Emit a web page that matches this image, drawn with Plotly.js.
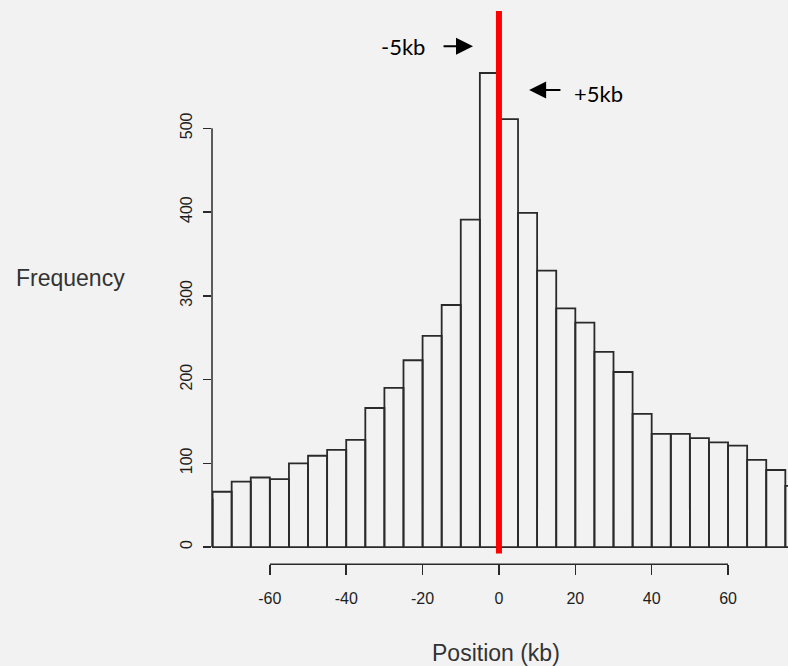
<!DOCTYPE html>
<html>
<head>
<meta charset="utf-8">
<script src="https://cdn.plot.ly/plotly-3.0.1.min.js"></script>
<style>
html,body{margin:0;padding:0;background:#f2f2f2;}
#chart{width:788px;height:666px;}
</style>
</head>
<body>
<div id="chart"></div>
<script>
// Bin centres (kb), bin width 5 kb
const binCenters = [-77.5,-72.5,-67.5,-62.5,-57.5,-52.5,-47.5,-42.5,-37.5,-32.5,-27.5,-22.5,-17.5,-12.5,-7.5,-2.5,
                    2.5,7.5,12.5,17.5,22.5,27.5,32.5,37.5,42.5,47.5,52.5,57.5,62.5,67.5,72.5,77.5];
const frequency  = [57,66,78,83,81,100,109,116,128,166,190,223,252,289,391,566,
                    511,399,330,285,268,233,209,159,135,135,130,125,121,104,92,73];
const binWidth = 5;
const xTicks = [-60,-40,-20,0,20,40,60];
const yTicks = [0,100,200,300,400,500];
const centerLine = 0;
const leftLabel = {text:'-5kb', x:-25, y:598, arrowHead:-6.8, arrowTail:-14.9, arrowY:598};
const rightLabel = {text:'+5kb', x:26.1, y:542, arrowHead:7.9, arrowTail:16.5, arrowY:545.6};

const axisColor = '#2a2a2a';
const tickFont = {family:'Liberation Sans, Arial, sans-serif', size:16, color:'#1e1e1e'};
const titleFont = {family:'Liberation Sans, Arial, sans-serif', size:23, color:'#333333'};
const noteFont = {family:'Lato, Noto Sans, sans-serif', size:22, color:'#000000'};

const yDomainBottom = 0.0884;
const xAxisPos = 0.0701;

const trace = {
  type:'bar',
  x: binCenters,
  y: frequency,
  width: binCenters.map(()=>binWidth),
  marker:{color:'rgba(0,0,0,0)', line:{color:'#2a2a2a', width:1.8}},
  hoverinfo:'x+y',
  showlegend:false
};

const layout = {
  width:788, height:666,
  margin:{l:212, r:0, t:11, b:60, pad:0},
  paper_bgcolor:'#f2f2f2',
  plot_bgcolor:'#f2f2f2',
  bargap:0,
  showlegend:false,
  xaxis:{
    range:[-75.15, 75.7],
    anchor:'free', position:xAxisPos,
    showgrid:false, zeroline:false, showline:false,
    ticks:'outside', ticklen:10, tickwidth:1.5, tickcolor:axisColor,
    tickvals:xTicks, ticktext:xTicks.map(String),
    tickfont:tickFont, ticklabelstandoff:10
  },
  yaxis:{
    range:[-7.6, 640],
    domain:[yDomainBottom, 1],
    anchor:'x',
    showgrid:false, zeroline:false, showline:false,
    ticks:'outside', ticklen:8, tickwidth:1.5, tickcolor:axisColor,
    tickvals:yTicks, ticktext:yTicks.map(String),
    tickangle:-90,
    tickfont:tickFont, ticklabelstandoff:5
  },
  shapes:[
    {type:'line', xref:'paper', yref:'y', x0:0, x1:0, y0:yTicks[0], y1:yTicks[yTicks.length-1],
     line:{color:axisColor, width:1.5}},
    {type:'line', xref:'x', yref:'paper', x0:xTicks[0], x1:xTicks[xTicks.length-1], y0:xAxisPos, y1:xAxisPos,
     line:{color:axisColor, width:1.5}},
    {type:'line', xref:'x', yref:'y domain', x0:centerLine, x1:centerLine, y0:0, y1:1,
     line:{color:'#ff0000', width:6}, layer:'above'}
  ],
  annotations:[
    {text:'Frequency', xref:'paper', yref:'paper', x:-0.2448, y:0.5508, xanchor:'center', yanchor:'middle',
     showarrow:false, font:titleFont},
    {text:'Position (kb)', xref:'paper', yref:'paper', x:0.4925, y:-0.0785, xanchor:'center', yanchor:'middle',
     showarrow:false, font:titleFont},
    {text:leftLabel.text, xref:'x', yref:'y', x:leftLabel.x, y:leftLabel.y, xanchor:'center', yanchor:'middle',
     showarrow:false, font:noteFont},
    {text:rightLabel.text, xref:'x', yref:'y', x:rightLabel.x, y:rightLabel.y, xanchor:'center', yanchor:'middle',
     showarrow:false, font:noteFont},
    {text:'', xref:'x', yref:'y', x:leftLabel.arrowHead, y:leftLabel.arrowY,
     axref:'x', ayref:'y', ax:leftLabel.arrowTail, ay:leftLabel.arrowY,
     showarrow:true, arrowhead:2, arrowsize:1.7, arrowwidth:2, arrowcolor:'#000000', standoff:0, startstandoff:0},
    {text:'', xref:'x', yref:'y', x:rightLabel.arrowHead, y:rightLabel.arrowY,
     axref:'x', ayref:'y', ax:rightLabel.arrowTail, ay:rightLabel.arrowY,
     showarrow:true, arrowhead:2, arrowsize:1.7, arrowwidth:2, arrowcolor:'#000000', standoff:0, startstandoff:0}
  ]
};

Plotly.newPlot('chart', [trace], layout, {displayModeBar:false, staticPlot:true});
</script>
</body>
</html>
